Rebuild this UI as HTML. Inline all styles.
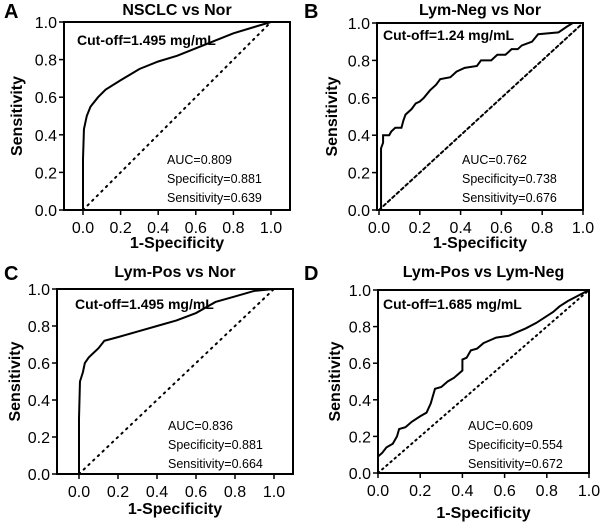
<!DOCTYPE html>
<html><head><meta charset="utf-8"><style>
body{margin:0;background:#fff;width:600px;height:523px;overflow:hidden}
svg text{font-family:"Liberation Sans",Arial,sans-serif;fill:#000}
</style></head><body>
<svg id="c" width="600" height="523" xmlns="http://www.w3.org/2000/svg"></svg>
<script>
const ticks=[0,0.2,0.4,0.6,0.8,1.0];
const tickLabels=["0.0","0.2","0.4","0.6","0.8","1.0"];
const aFpr=[0,0,0.005,0.02,0.04,0.08,0.12,0.2,0.3,0.4,0.5,0.6,0.7,0.8,0.9,1];
const aTpr=[0,0.27,0.43,0.5,0.55,0.6,0.64,0.69,0.75,0.79,0.82,0.86,0.9,0.94,0.97,1];
const bFpr=[0,0.01,0.01,0.01,0.02,0.02,0.05,0.06,0.08,0.11,0.12,0.13,0.16,0.18,0.2,0.22,0.25,0.28,0.3,0.35,0.38,0.42,0.48,0.5,0.55,0.58,0.62,0.65,0.68,0.7,0.75,0.78,0.88,0.92,0.95,1];
const bTpr=[0,0,0.2,0.33,0.36,0.4,0.4,0.42,0.44,0.44,0.48,0.51,0.54,0.57,0.58,0.6,0.64,0.67,0.7,0.71,0.74,0.76,0.77,0.8,0.8,0.83,0.83,0.86,0.86,0.88,0.9,0.94,0.95,0.98,1,1];
const cFpr=[0,0,0.005,0.02,0.03,0.05,0.08,0.1,0.13,0.2,0.3,0.4,0.5,0.6,0.7,0.8,0.9,1];
const cTpr=[0,0.3,0.5,0.55,0.6,0.63,0.66,0.68,0.72,0.74,0.77,0.8,0.83,0.87,0.93,0.96,0.99,1];
const dFpr=[0,0,0.02,0.04,0.07,0.09,0.1,0.13,0.16,0.2,0.23,0.25,0.27,0.3,0.33,0.36,0.4,0.4,0.42,0.44,0.47,0.5,0.52,0.56,0.62,0.66,0.7,0.75,0.79,0.83,0.86,0.9,0.95,1];
const dTpr=[0,0.09,0.11,0.14,0.16,0.2,0.24,0.25,0.28,0.31,0.33,0.38,0.46,0.47,0.5,0.52,0.56,0.62,0.63,0.67,0.68,0.71,0.72,0.74,0.75,0.77,0.79,0.82,0.85,0.88,0.91,0.94,0.97,1];
const titles=["NSCLC vs Nor","Lym-Neg vs Nor","Lym-Pos vs Nor","Lym-Pos vs Lym-Neg"];
const letters=["A","B","C","D"];
const cutoffs=["Cut-off=1.495 mg/mL","Cut-off=1.24 mg/mL","Cut-off=1.495 mg/mL","Cut-off=1.685 mg/mL"];
const aucs=["AUC=0.809","AUC=0.762","AUC=0.836","AUC=0.609"];
const specs=["Specificity=0.881","Specificity=0.738","Specificity=0.881","Specificity=0.554"];
const sens=["Sensitivity=0.639","Sensitivity=0.676","Sensitivity=0.664","Sensitivity=0.672"];
const svg=document.getElementById('c');
const NS="http://www.w3.org/2000/svg";
function mk(tag,at,txt){const e=document.createElementNS(NS,tag);for(const k in at)e.setAttribute(k,at[k]);if(txt!==undefined)e.textContent=txt;svg.appendChild(e);return e;}
const panels=[
 {L:64,R:290,T:22,B:210,x0:83,x1:271,fpr:aFpr,tpr:aTpr,lx:0,ly:0,ytx:17,xty:248,cx:77,cy:45,sx:167,sy:164,dash:"1.5,5"},
 {L:377,R:583,T:23,B:210,x0:379,x1:583,fpr:bFpr,tpr:bTpr,lx:300,ly:0,ytx:332,xty:248,cx:383,cy:40,sx:462,sy:164,dash:"3,3"},
 {L:57,R:293,T:289,B:474,x0:79,x1:274,fpr:cFpr,tpr:cTpr,lx:0,ly:262,ytx:15,xty:514,cx:75,cy:309,sx:168,sy:430,dash:"1.5,5"},
 {L:378,R:589,T:290,B:473,x0:378,x1:589,fpr:dFpr,tpr:dTpr,lx:300,ly:262,ytx:335,xty:518,cx:383,cy:309,sx:468,sy:430,dash:"1.5,4"}
];
panels.forEach((p,i)=>{
 const sx=v=>p.x0+v*(p.x1-p.x0), sy=v=>p.B-v*(p.B-p.T);
 let e;
 e=mk('text',{x:p.lx+4,y:p.ly+18,'font-size':20,'font-weight':'bold'},letters[i]);
 
 
 e=mk('text',{x:(p.L+p.R)/2,y:p.ly+15,'font-size':16,'font-weight':'bold','text-anchor':'middle'},titles[i]);
 
 
 e=mk('rect',{x:p.L,y:p.T,width:p.R-p.L,height:p.B-p.T,fill:'none',stroke:'#000','stroke-width':2});
 
 
 ticks.forEach((t,j)=>{
  e=mk('line',{x1:p.L-5,x2:p.L,y1:sy(t),y2:sy(t),stroke:'#000','stroke-width':1.5});
  
  
  e=mk('text',{x:p.L-7,y:sy(t)+6,'font-size':16,'text-anchor':'end'},tickLabels[j]);
  
  
  e=mk('line',{x1:sx(t),x2:sx(t),y1:p.B,y2:p.B+5,stroke:'#000','stroke-width':1.5});
  
  
  e=mk('text',{x:sx(t),y:p.B+23,'font-size':16,'text-anchor':'middle'},tickLabels[j]);
  
  
 });
 e=mk('text',{x:(p.L+p.R)/2,y:p.xty,'font-size':16,'font-weight':'bold','text-anchor':'middle'},'1-Specificity');
 
 
 e=mk('text',{x:p.ytx,y:(p.T+p.B)/2,'font-size':16,'font-weight':'bold','text-anchor':'middle',transform:`rotate(-90 ${p.ytx} ${(p.T+p.B)/2})`,dy:5},'Sensitivity');
 
 
 e=mk('line',{x1:sx(0),y1:sy(0),x2:sx(1),y2:sy(1),stroke:'#000','stroke-width':2,'stroke-dasharray':p.dash,'stroke-linecap':'round'});
 
 
 const pts=p.fpr.map((f,k)=>sx(f)+','+sy(p.tpr[k])).join(' ');
 e=mk('polyline',{points:pts,fill:'none',stroke:'#000','stroke-width':2});
 
 
 e=mk('text',{x:p.cx,y:p.cy,'font-size':14,'font-weight':'bold'},cutoffs[i]);
 
 
 e=mk('text',{x:p.sx,y:p.sy,'font-size':12.5},aucs[i]);
 
 
 e=mk('text',{x:p.sx,y:p.sy+19,'font-size':12.5},specs[i]);
 
 
 e=mk('text',{x:p.sx,y:p.sy+38,'font-size':12.5},sens[i]);
 
 
});
</script>
</body></html>
